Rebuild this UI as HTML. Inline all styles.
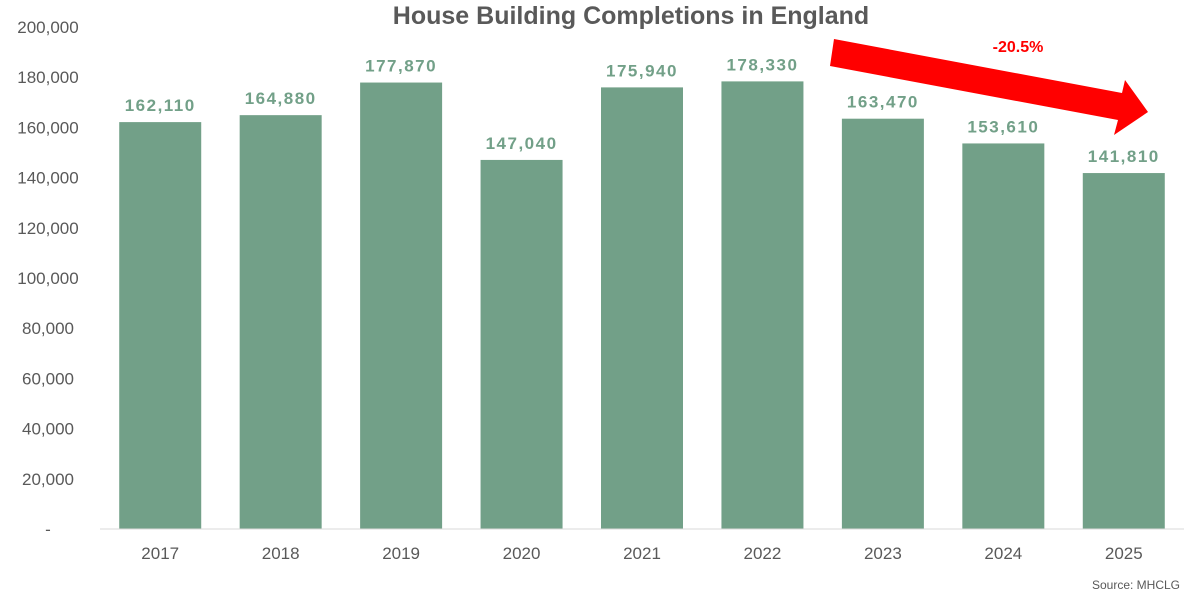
<!DOCTYPE html>
<html><head><meta charset="utf-8"><style>
body{margin:0;background:#fff;}
svg{display:block;font-family:"Liberation Sans",sans-serif;}
</style></head><body>
<svg id="chart" width="1200" height="596">
<text x="631" y="24" text-anchor="middle" font-size="25" font-weight="bold" fill="#595959">House Building Completions in England</text>
<g id="yaxis"></g><g id="bars"></g>
<line x1="100" y1="529" x2="1184" y2="529" stroke="#d9d9d9" stroke-width="1"/>
<polygon points="834,39 1122,93 1125,80 1148,112 1114,135 1118,120 830,66" fill="#ff0000"/>
<text x="1018" y="52" text-anchor="middle" font-size="16" font-weight="bold" fill="#ff0000">-20.5%</text>
<text x="1180" y="589" text-anchor="end" font-size="12" fill="#595959">Source: MHCLG</text>
</svg>
<script>
const categories=["2017","2018","2019","2020","2021","2022","2023","2024","2025"];
const values=[162110,164880,177870,147040,175940,178330,163470,153610,141810];
const yTicks=[0,20000,40000,60000,80000,100000,120000,140000,160000,180000,200000];
const NS="http://www.w3.org/2000/svg";
const x0=100,x1=1184,yTop=27,yBase=529,yMax=200000;
const band=(x1-x0)/categories.length,bw=82;
function y(v){return yBase-(v/yMax)*(yBase-yTop);}
function xc(i){return x0+band*(i+0.5);}
function mk(tag,attrs,parent,txt){const e=document.createElementNS(NS,tag);for(const k in attrs)e.setAttribute(k,attrs[k]);if(txt!==undefined)e.textContent=txt;parent.appendChild(e);return e;}
const ya=document.getElementById('yaxis');
yTicks.forEach(t=>{
 const e=mk('text',{x:48,y:y(t)+6,'text-anchor':'middle','font-size':17,fill:'#595959'},ya,t===0?'-':t.toLocaleString('en-US'));
 
 
});
const bg=document.getElementById('bars');
categories.forEach((c,i)=>{
 const r=mk('rect',{x:xc(i)-bw/2,y:y(values[i]),width:bw,height:yBase-y(values[i]),fill:'#72a088'},bg);
 
 
 const l=mk('text',{x:xc(i),y:y(values[i])-11,'text-anchor':'middle','font-size':17,'font-weight':'bold',fill:'#72a088','letter-spacing':'1.5'},bg,values[i].toLocaleString('en-US'));
 
 
 const t=mk('text',{x:xc(i),y:559,'text-anchor':'middle','font-size':17,fill:'#595959'},bg,c);
 
 
});
</script>
</body></html>
